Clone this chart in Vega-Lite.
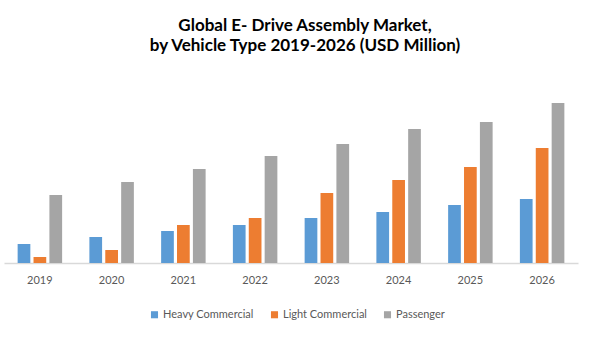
{
  "$schema": "https://vega.github.io/schema/vega-lite/v6.json",
  "width": 574,
  "height": 183,
  "autosize": "none",
  "padding": {"left": 4, "top": 80, "right": 27, "bottom": 74},
  "background": "white",
  "title": {
    "text": ["Global E- Drive Assembly Market,", "by Vehicle Type 2019-2026 (USD Million)"],
    "font": "Lato",
    "fontSize": 17,
    "fontWeight": "bold",
    "color": "#000000",
    "anchor": "middle",
    "dx": 14,
    "offset": 25,
    "lineHeight": 20
  },
  "data": {
    "values": [
      {"year": "2019", "type": "Heavy Commercial", "value": 19},
      {"year": "2019", "type": "Light Commercial", "value": 6},
      {"year": "2019", "type": "Passenger", "value": 68},
      {"year": "2020", "type": "Heavy Commercial", "value": 26},
      {"year": "2020", "type": "Light Commercial", "value": 13},
      {"year": "2020", "type": "Passenger", "value": 81},
      {"year": "2021", "type": "Heavy Commercial", "value": 32},
      {"year": "2021", "type": "Light Commercial", "value": 38},
      {"year": "2021", "type": "Passenger", "value": 94},
      {"year": "2022", "type": "Heavy Commercial", "value": 38},
      {"year": "2022", "type": "Light Commercial", "value": 45},
      {"year": "2022", "type": "Passenger", "value": 107},
      {"year": "2023", "type": "Heavy Commercial", "value": 45},
      {"year": "2023", "type": "Light Commercial", "value": 70},
      {"year": "2023", "type": "Passenger", "value": 119},
      {"year": "2024", "type": "Heavy Commercial", "value": 51},
      {"year": "2024", "type": "Light Commercial", "value": 83},
      {"year": "2024", "type": "Passenger", "value": 134},
      {"year": "2025", "type": "Heavy Commercial", "value": 58},
      {"year": "2025", "type": "Light Commercial", "value": 96},
      {"year": "2025", "type": "Passenger", "value": 141},
      {"year": "2026", "type": "Heavy Commercial", "value": 64},
      {"year": "2026", "type": "Light Commercial", "value": 115},
      {"year": "2026", "type": "Passenger", "value": 160}
    ]
  },
  "mark": {"type": "bar"},
  "encoding": {
    "x": {
      "field": "year",
      "type": "nominal",
      "title": null,
      "scale": {"paddingInner": 0.38, "paddingOuter": 0.19},
      "axis": {
        "labelAngle": 0,
        "labelFont": "Lato",
        "labelFontSize": 11,
        "labelColor": "#595959",
        "labelPadding": 11,
        "ticks": false,
        "domainColor": "#d9d9d9",
        "domainWidth": 1.5
      }
    },
    "xOffset": {
      "field": "type",
      "type": "nominal",
      "scale": {"paddingInner": 0.2, "paddingOuter": 0}
    },
    "y": {
      "field": "value",
      "type": "quantitative",
      "scale": {"domain": [0, 183]},
      "axis": null
    },
    "color": {
      "field": "type",
      "type": "nominal",
      "scale": {
        "domain": ["Heavy Commercial", "Light Commercial", "Passenger"],
        "range": ["#5B9BD5", "#ED7D31", "#A5A5A5"]
      },
      "legend": {
        "orient": "none",
        "legendX": 145,
        "legendY": 229,
        "direction": "horizontal",
        "title": null,
        "symbolType": "square",
        "symbolSize": 50,
        "symbolStrokeWidth": 0,
        "labelFont": "Lato",
        "labelFontSize": 11,
        "labelColor": "#595959",
        "labelOffset": 3,
        "columnPadding": 15
      }
    }
  },
  "config": {
    "view": {"stroke": null},
    "axis": {"grid": false}
  }
}
